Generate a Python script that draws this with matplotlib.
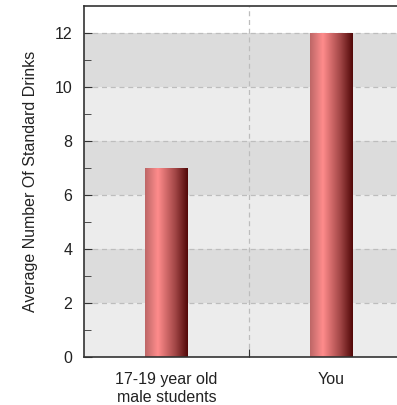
import matplotlib
matplotlib.use("Agg")
import matplotlib.pyplot as plt
import numpy as np
from matplotlib.colors import LinearSegmentedColormap

categories = ["17-19 year old\nmale students", "You"]
values = [7, 12]
yticks = [0, 2, 4, 6, 8, 10, 12]

plt.rcParams['font.family'] = ['Liberation Sans', 'DejaVu Sans']

fig = plt.figure(figsize=(3.97, 4.05), dpi=100)
ax = fig.add_axes([84/397, 48/405, 330/397, 351/405])

x = np.arange(len(categories))

# alternating bands
for i, y0 in enumerate(range(0, 12, 2)):
    col = '#ececec' if i % 2 == 0 else '#dcdcdc'
    ax.axhspan(y0, y0 + 2, color=col, zorder=0, lw=0)
for y in yticks[1:]:
    ax.axhline(y, color='#bdbdbd', ls=(0, (4, 3)), lw=0.9, zorder=1)
for xb in x[:-1] + 0.5:
    ax.axvline(xb, color='#bdbdbd', ls=(0, (4, 3)), lw=0.9, zorder=1)

cmap = LinearSegmentedColormap.from_list('cyl', [
    (0.0, (0.74, 0.40, 0.40)),
    (0.3, (1.0, 0.55, 0.55)),
    (0.7, (0.64, 0.28, 0.28)),
    (1.0, (0.32, 0.03, 0.03)),
])
grad = np.linspace(0, 1, 256).reshape(1, -1)

bars = ax.bar(x, values, width=0.26, color='none', lw=0, zorder=2)
for b in bars:
    bx, by = b.get_x(), b.get_y()
    im = ax.imshow(grad, cmap=cmap, aspect='auto',
                   extent=(bx, bx + b.get_width(), by, by + b.get_height()),
                   zorder=2, interpolation='bilinear')
    im.set_clip_path(b)
ax.set_xlim(-0.5, len(categories) - 0.5)
ax.set_ylim(0, 13)

ax.set_yticks(yticks)
ax.set_yticks(np.arange(1, 13, 2), minor=True)
ax.set_xticks(x[:-1] + 0.5)
ax.set_xticklabels([])
ax.set_xticks(x, minor=True)
ax.set_xticklabels(categories, minor=True, fontsize=11.5, color='#222222',
                   linespacing=1.25)
ax.tick_params(axis='x', which='minor', length=0, pad=11)
ax.tick_params(axis='x', which='major', direction='in', length=6, color='#333333')
ax.tick_params(axis='y', which='major', direction='in', length=6, labelsize=11.5,
               pad=8.5, color='#333333', labelcolor='#222222')
ax.tick_params(axis='y', which='minor', direction='in', length=5, color='#333333')

for s in ax.spines.values():
    s.set_color('#333333')
    s.set_linewidth(1.2)

ax.set_ylabel("Average Number Of Standard Drinks", fontsize=11.5, color='#222222',
              labelpad=12)

fig.savefig("out.png", dpi=100)
